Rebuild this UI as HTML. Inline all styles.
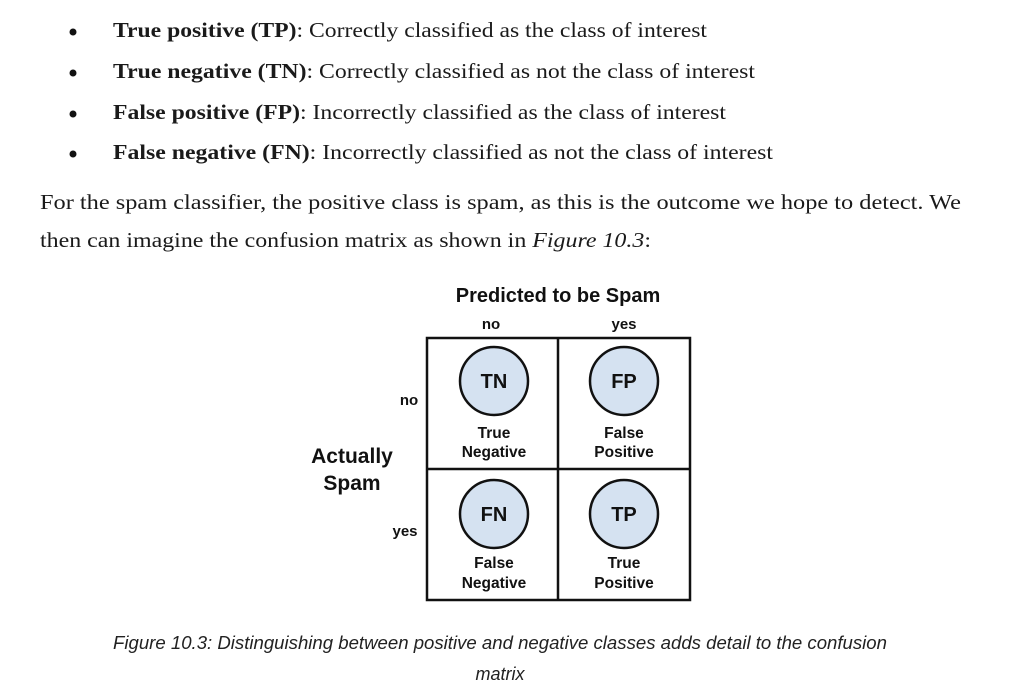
<!DOCTYPE html>
<html><head><meta charset="utf-8"><style>
html,body{margin:0;padding:0;background:#fff;}
svg{display:block;}
.serif{font-family:"Liberation Serif",serif;font-size:21px;fill:#1a1a1a;}
.sans{font-family:"Liberation Sans",sans-serif;font-weight:bold;fill:#111;}
</style></head><body>
<svg width="1031" height="691" viewBox="0 0 1031 691">
<g>
 <circle cx="73" cy="32" r="3.5" fill="#111"/>
 <text class="serif" x="113" y="37" textLength="594" lengthAdjust="spacingAndGlyphs"><tspan font-weight="bold">True positive (TP)</tspan>: Correctly classified as the class of interest</text>
 <circle cx="73" cy="73" r="3.5" fill="#111"/>
 <text class="serif" x="113" y="78" textLength="642" lengthAdjust="spacingAndGlyphs"><tspan font-weight="bold">True negative (TN)</tspan>: Correctly classified as not the class of interest</text>
 <circle cx="73" cy="114" r="3.5" fill="#111"/>
 <text class="serif" x="113" y="119" textLength="613" lengthAdjust="spacingAndGlyphs"><tspan font-weight="bold">False positive (FP)</tspan>: Incorrectly classified as the class of interest</text>
 <circle cx="73" cy="154" r="3.5" fill="#111"/>
 <text class="serif" x="113" y="159" textLength="660" lengthAdjust="spacingAndGlyphs"><tspan font-weight="bold">False negative (FN)</tspan>: Incorrectly classified as not the class of interest</text>
</g>
<text class="serif" x="40" y="209" textLength="921" lengthAdjust="spacingAndGlyphs">For the spam classifier, the positive class is spam, as this is the outcome we hope to detect. We</text>
<text class="serif" x="40" y="247" textLength="611" lengthAdjust="spacingAndGlyphs">then can imagine the confusion matrix as shown in <tspan font-style="italic">Figure 10.3</tspan>:</text>

<g>
 <text class="sans" x="558" y="302" font-size="20" text-anchor="middle">Predicted to be Spam</text>
 <text class="sans" x="491" y="329" font-size="15" text-anchor="middle">no</text>
 <text class="sans" x="624" y="329" font-size="15" text-anchor="middle">yes</text>
 <text class="sans" x="409" y="405" font-size="15" text-anchor="middle">no</text>
 <text class="sans" x="405" y="536" font-size="15" text-anchor="middle">yes</text>
 <text class="sans" x="352" y="463" font-size="21" text-anchor="middle">Actually</text>
 <text class="sans" x="352" y="490" font-size="21" text-anchor="middle">Spam</text>
 <rect x="427" y="338" width="263" height="262" fill="none" stroke="#111" stroke-width="2.5"/>
 <line x1="558" y1="338" x2="558" y2="600" stroke="#111" stroke-width="2.5"/>
 <line x1="427" y1="469" x2="690" y2="469" stroke="#111" stroke-width="2.5"/>
 <g>
  <circle cx="494" cy="381" r="34" fill="#d5e2f1" stroke="#111" stroke-width="2.5"/>
  <text class="sans" x="494" y="388" font-size="20" text-anchor="middle">TN</text>
  <text class="sans" x="494" y="438" font-size="15.5" text-anchor="middle">True</text>
  <text class="sans" x="494" y="457" font-size="15.5" text-anchor="middle">Negative</text>
 </g>
 <g>
  <circle cx="624" cy="381" r="34" fill="#d5e2f1" stroke="#111" stroke-width="2.5"/>
  <text class="sans" x="624" y="388" font-size="20" text-anchor="middle">FP</text>
  <text class="sans" x="624" y="438" font-size="15.5" text-anchor="middle">False</text>
  <text class="sans" x="624" y="457" font-size="15.5" text-anchor="middle">Positive</text>
 </g>
 <g>
  <circle cx="494" cy="514" r="34" fill="#d5e2f1" stroke="#111" stroke-width="2.5"/>
  <text class="sans" x="494" y="521" font-size="20" text-anchor="middle">FN</text>
  <text class="sans" x="494" y="568" font-size="15.5" text-anchor="middle">False</text>
  <text class="sans" x="494" y="588" font-size="15.5" text-anchor="middle">Negative</text>
 </g>
 <g>
  <circle cx="624" cy="514" r="34" fill="#d5e2f1" stroke="#111" stroke-width="2.5"/>
  <text class="sans" x="624" y="521" font-size="20" text-anchor="middle">TP</text>
  <text class="sans" x="624" y="568" font-size="15.5" text-anchor="middle">True</text>
  <text class="sans" x="624" y="588" font-size="15.5" text-anchor="middle">Positive</text>
 </g>
</g>
<text x="500" y="649" font-family="Liberation Sans,sans-serif" font-style="italic" font-size="18" fill="#222" text-anchor="middle" textLength="774" lengthAdjust="spacingAndGlyphs">Figure 10.3: Distinguishing between positive and negative classes adds detail to the confusion</text>
<text x="500" y="680" font-family="Liberation Sans,sans-serif" font-style="italic" font-size="18" fill="#222" text-anchor="middle">matrix</text>
</svg>
</body></html>
